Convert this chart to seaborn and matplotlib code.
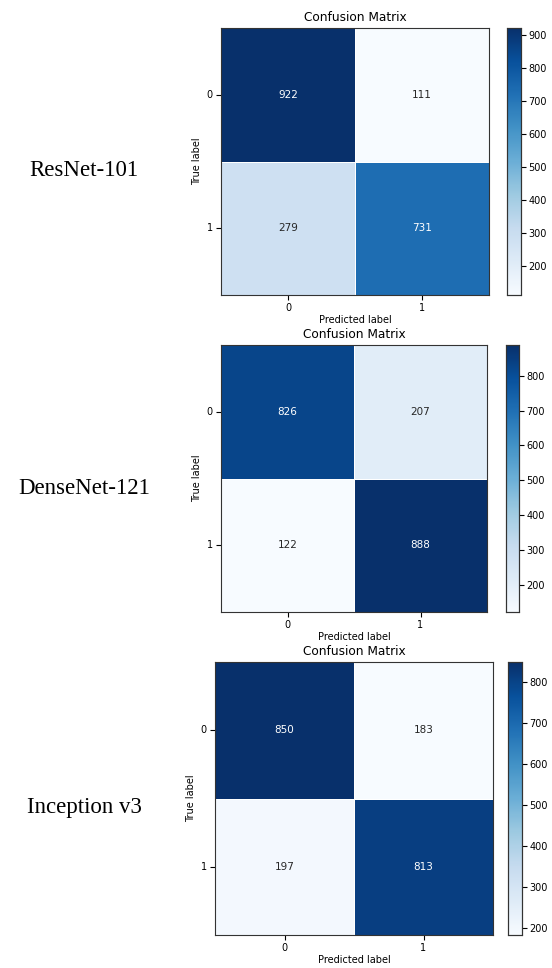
# Three confusion matrices (ResNet-101, DenseNet-121, Inception v3) stacked vertically
import numpy as np
import matplotlib
matplotlib.use('Agg')
import matplotlib.pyplot as plt
from matplotlib.ticker import MultipleLocator
import seaborn as sns

# ── Data ──
models = ['ResNet-101', 'DenseNet-121', 'Inception v3']
class_labels = ['0', '1']
resnet_cm = [[922, 111], [279, 731]]
densenet_cm = [[826, 207], [122, 888]]
inception_cm = [[850, 183], [197, 813]]
matrices = [resnet_cm, densenet_cm, inception_cm]

# ── Layout (figure fractions) ──
W, H = 552, 968
panels = [
    # (heatmap box in px: x0, y0, x1, y1), (colorbar x0, x1)
    ((221, 28, 489, 295), (507, 521)),
    ((221, 345, 487, 612), (506, 519)),
    ((215, 662, 493, 935), (508, 522)),
]
label_y = [170, 488, 808]

fig = plt.figure(figsize=(W / 100, H / 100), dpi=100)

for cm, (box, cb), name, ly in zip(matrices, panels, models, label_y):
    x0, y0, x1, y1 = box
    ax = fig.add_axes([x0 / W, (H - y1) / H, (x1 - x0) / W, (y1 - y0) / H])
    cax = fig.add_axes([cb[0] / W, (H - y1) / H, (cb[1] - cb[0]) / W, (y1 - y0) / H])

    sns.heatmap(np.array(cm), ax=ax, cbar_ax=cax, cmap='Blues', annot=True, fmt='d',
                annot_kws={'size': 7.5}, linewidths=0.4, linecolor='white',
                xticklabels=class_labels, yticklabels=class_labels)

    # imshow-like look: visible frame and tick marks
    for sp in ax.spines.values():
        sp.set_visible(True)
        sp.set_linewidth(0.8)
        sp.set_color('#333333')
    ax.tick_params(axis='both', labelsize=7, length=3.5, width=0.8, pad=2.5)
    ax.set_yticklabels(class_labels, rotation=0)
    ax.set_title('Confusion Matrix', fontsize=8.7, pad=5)
    ax.set_xlabel('Predicted label', fontsize=7, labelpad=1.5)
    ax.set_ylabel('True label', fontsize=7, labelpad=3)

    cax.yaxis.set_major_locator(MultipleLocator(100))
    cax.tick_params(labelsize=7, length=3.5, width=0.8, pad=2)
    for sp in cax.spines.values():
        sp.set_visible(True)
        sp.set_linewidth(0.8)
        sp.set_color('#333333')

    fig.text(84 / W, (H - ly) / H, name, ha='center', va='center',
             fontsize=16.5, family='Liberation Serif')

plt.savefig('out.png', dpi=100)
